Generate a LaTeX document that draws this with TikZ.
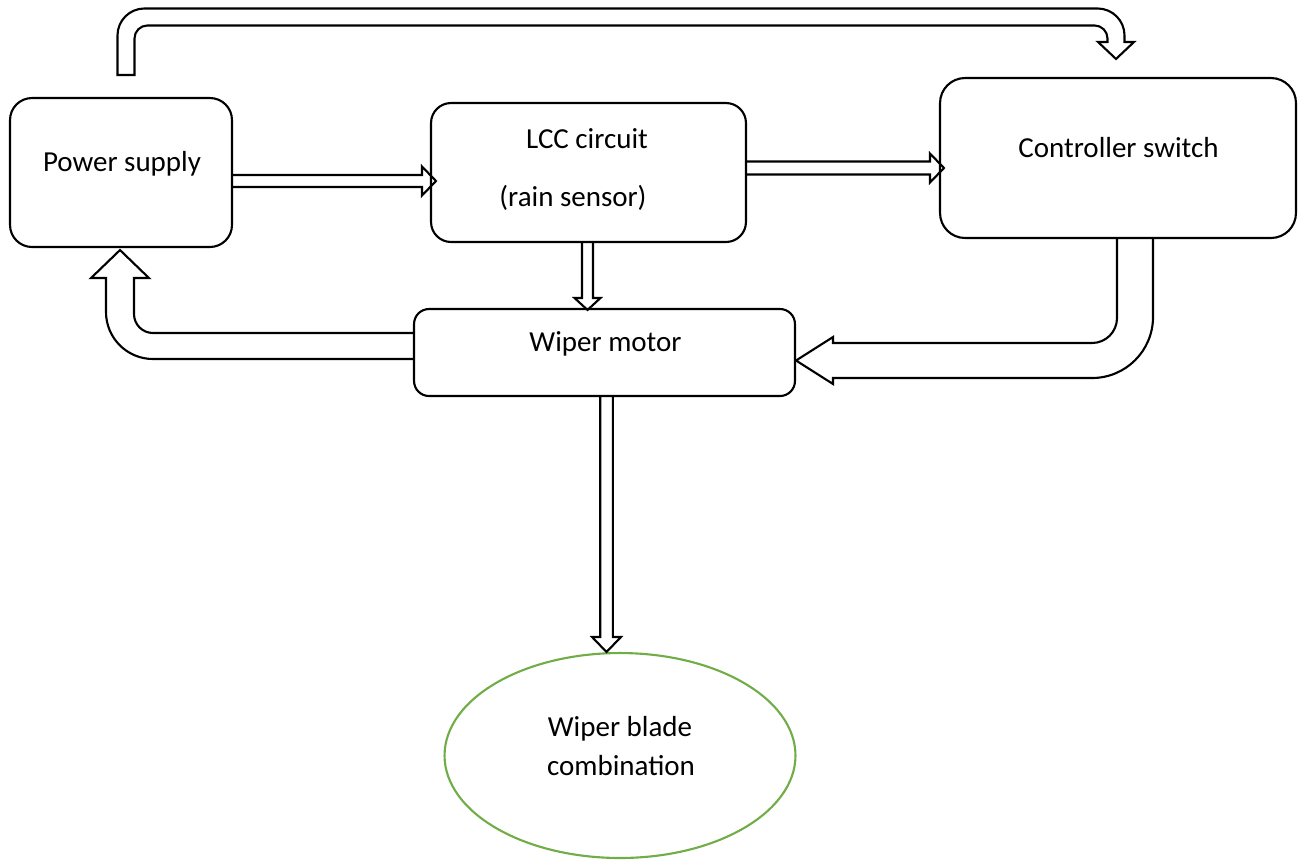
\documentclass[tikz,border=0pt]{standalone}
\usepackage{fontspec}
\setmainfont{Carlito}
\usetikzlibrary{calc,shapes.geometric}
\definecolor{bladegreen}{HTML}{70AD47}
\tikzset{
  blk/.style={draw, line width=1.2pt, rounded corners=#1, inner sep=0pt},
  blk/.default=0.45cm,
  lbl/.style={anchor=base, inner sep=0pt, font=\fontsize{16.5}{20}\selectfont},
  hollow/.style={draw, line width=1.2pt, line join=miter},
}
% straight hollow arrows: start, tip, half shaft, half head, head length
\newcommand{\harrow}[5]{%
  \draw[hollow] ($(#2 -| #1)+(0,-#3)$) -- ($(#2)+(-#5,-#3)$) -- ($(#2)+(-#5,-#4)$)
    -- (#2) -- ($(#2)+(-#5,#4)$) -- ($(#2)+(-#5,#3)$) -- ($(#2 -| #1)+(0,#3)$);}
\newcommand{\varrow}[5]{%
  \draw[hollow] ($(#2 |- #1)+(-#3,0)$) -- ($(#2)+(-#3,-#5)$) -- ($(#2)+(-#4,-#5)$)
    -- (#2) -- ($(#2)+(#4,-#5)$) -- ($(#2)+(#3,-#5)$) -- ($(#2 |- #1)+(#3,0)$);}
\begin{document}
\begin{tikzpicture}[x=0.02cm, y=-0.02cm]
    \useasboundingbox (0,0) rectangle (1300,860);
    % blocks
    \node[blk=0.44cm, minimum width=4.44cm, minimum height=2.98cm] (ps) at (121,172.5) {};
    \node[blk=0.4cm, minimum width=6.3cm, minimum height=2.78cm] (lcc) at (588.5,172.5) {};
    \node[blk=0.5cm, minimum width=7.12cm, minimum height=3.2cm] (cs) at (1118,158) {};
    \node[blk=0.3cm, minimum width=7.62cm, minimum height=1.74cm] (wm) at (604.5,352.5) {};
    \node[draw=bladegreen, line width=1.2pt, ellipse, inner sep=0pt,
          minimum width=7.02cm, minimum height=4.1cm] (blade) at (620,755.5) {};
    % texts
    \node[lbl] (pstxt) at (122,171.5) {Power supply};
    \node[lbl] (lcctxt) at (587,148.5) {LCC circuit};
    \node[lbl] (senstxt) at (573,206.5) {(rain sensor)};
    \node[lbl] (cstxt) at (1118.5,157.5) {Controller switch};
    \node[lbl] (wmtxt) at (605.5,351) {Wiper motor};
    \node[lbl] (bladetxta) at (620,736) {Wiper blade};
    \node[lbl] (bladetxtb) at (621,775) {combination};
    % straight arrows
    \coordinate (tipA) at ($(lcc.west)+(6,8.5)$);
    \harrow{ps.east}{tipA}{6}{14.5}{14}
    \coordinate (tipB) at ($(cs.west)+(5,10)$);
    \harrow{lcc.east}{tipB}{6.5}{14.5}{14}
    \coordinate (tipC) at ($(wm.north -| lcc.south)+(-1,2)$);
    \varrow{lcc.south}{tipC}{5.5}{13}{12}
    \coordinate (tipD) at ($(blade.north -| wm.south)+(2,0)$);
    \varrow{wm.south}{tipD}{6.3}{14.5}{15}
    % bent arrows
    \coordinate (tipE) at ($(ps.south)+(-1,2)$);
    \draw[hollow] ($(wm.west)+(0,-19.5)$)
        [rounded corners=0.38cm] -- ($(tipE |- wm.west)+(14,-19.5)$)
        [sharp corners] -- ($(tipE)+(14,28)$) -- ($(tipE)+(29,28)$) -- (tipE)
        -- ($(tipE)+(-29,28)$) -- ($(tipE)+(-14,28)$)
        [rounded corners=0.94cm] -- ($(tipE |- wm.west)+(-14,6.5)$)
        [sharp corners] -- ($(wm.west)+(0,6.5)$);
    \coordinate (tipF) at ($(wm.east)+(0,8)$);
    \draw[hollow] ($(cs.south)+(-1,0)$)
        [rounded corners=0.5cm] -- ($(cs.south |- tipF)+(-1,-17.5)$)
        [sharp corners] -- ($(tipF)+(37,-17.5)$) -- ($(tipF)+(37,-23.5)$) -- (tipF)
        -- ($(tipF)+(37,23.5)$) -- ($(tipF)+(37,17.5)$)
        [rounded corners=1.22cm] -- ($(cs.south |- tipF)+(35,17.5)$)
        [sharp corners] -- ($(cs.south)+(35,0)$);
    \coordinate (gstart) at ($(ps.north)+(5,-22)$);
    \coordinate (gtip) at ($(cs.north)+(-2,-18)$);
    \draw[hollow] ($(gstart)+(-8.5,0)$)
        [rounded corners=0.54cm] -- ($(gstart |- gtip)+(-8.5,-50.5)$) -- ($(gtip)+(8.5,-50.5)$)
        [sharp corners] -- ($(gtip)+(8.5,-17)$) -- ($(gtip)+(18,-17)$) -- (gtip)
        -- ($(gtip)+(-18,-17)$) -- ($(gtip)+(-8.5,-17)$)
        [rounded corners=0.26cm] -- ($(gtip)+(-8.5,-33.5)$) -- ($(gstart |- gtip)+(8.5,-33.5)$)
        [sharp corners] -- ($(gstart)+(8.5,0)$) -- cycle;
\end{tikzpicture}
\end{document}
